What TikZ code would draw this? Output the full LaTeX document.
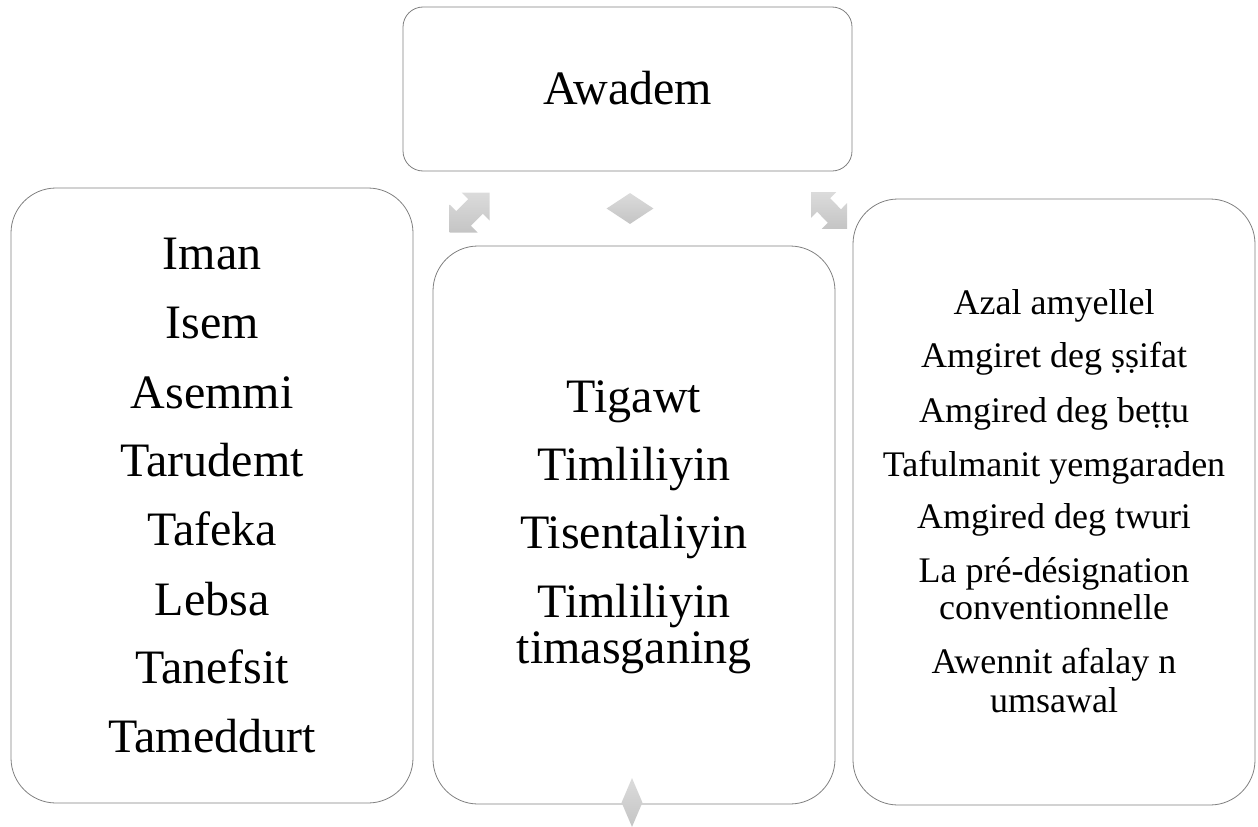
\documentclass[tikz,border=0pt]{standalone}
\usepackage{fontspec}
\setmainfont{LiberationSerif}[Extension=.ttf, UprightFont=*-Regular]
\usetikzlibrary{shapes.geometric}
\tikzset{
  box/.style={draw=black!50, line width=0.8pt, fill=white, rectangle, rounded corners=#1, inner sep=0pt},
  big/.style={anchor=base, inner sep=0pt, font=\fontsize{48}{56}\selectfont},
  small/.style={anchor=base, inner sep=0pt, font=\fontsize{36}{42}\selectfont},
  grayfill/.style={top color=black!14, bottom color=black!23, draw=none},
  gem/.style={diamond, grayfill, inner sep=0pt, aspect=1},
  pics/dblarrow/.style={code={
    \path[grayfill] (-20,20) -- (-20,-8) -- (-13.3,-1.3) -- (-1.3,-13.3) -- (-8,-20) -- (20,-20) -- (20,8) -- (13.3,1.3) -- (1.3,13.3) -- (8,20) -- cycle;
  }}
}
\begin{document}
\begin{tikzpicture}[x=1pt,y=-1pt]
\useasboundingbox (0,0) rectangle (1258,827);
% boxes
\node[box=20pt, minimum width=449pt, minimum height=164pt] (top) at (627.5,89) {};
\node[box=45pt, minimum width=402pt, minimum height=615pt] (left) at (212,495.5) {};
\node[box=45pt, minimum width=402pt, minimum height=558pt] (mid) at (634,525) {};
\node[box=45pt, minimum width=402pt, minimum height=606pt] (right) at (1054,502) {};
% arrows
\pic (arL) at (469.5,212.5) {dblarrow};
\pic[xscale=-0.9, yscale=0.92] (arR) at (829,210.5) {dblarrow};
\node[gem, minimum width=47pt, minimum height=31pt] (gTop) at (630,208.5) {};
\node[gem, minimum width=21pt, minimum height=49pt] (gBot) at (632,802.5) {};
% texts
\node[big] (tTop) at (627.5,104) {Awadem};
\node[big] (l1) at (212,269) {Iman};
\node[big] (l2) at (212,338) {Isem};
\node[big] (l3) at (212,408) {Asemmi};
\node[big] (l4) at (212,476) {Tarudemt};
\node[big] (l5) at (212,545) {Tafeka};
\node[big] (l6) at (212,615) {Lebsa};
\node[big] (l7) at (212,683) {Tanefsit};
\node[big] (l8) at (212,752) {Tameddurt};
\node[big] (m1) at (634,412) {Tigawt};
\node[big] (m2) at (634,480) {Timliliyin};
\node[big] (m3) at (634,548) {Tisentaliyin};
\node[big] (m4) at (634,617) {Timliliyin};
\node[big] (m5) at (634,663) {timasganing};
\node[small] (r1) at (1054,314) {Azal amyellel};
\node[small] (r2) at (1054,367) {Amgiret deg ṣṣifat};
\node[small] (r3) at (1054,422) {Amgired deg beṭṭu};
\node[small] (r4) at (1054,476) {Tafulmanit yemgaraden};
\node[small] (r5) at (1054,528) {Amgired deg twuri};
\node[small] (r6) at (1054,582) {La pré-désignation};
\node[small] (r7) at (1054,619) {conventionnelle};
\node[small] (r8) at (1054,673) {Awennit afalay n};
\node[small] (r9) at (1054,712) {umsawal};
\end{tikzpicture}
\end{document}
